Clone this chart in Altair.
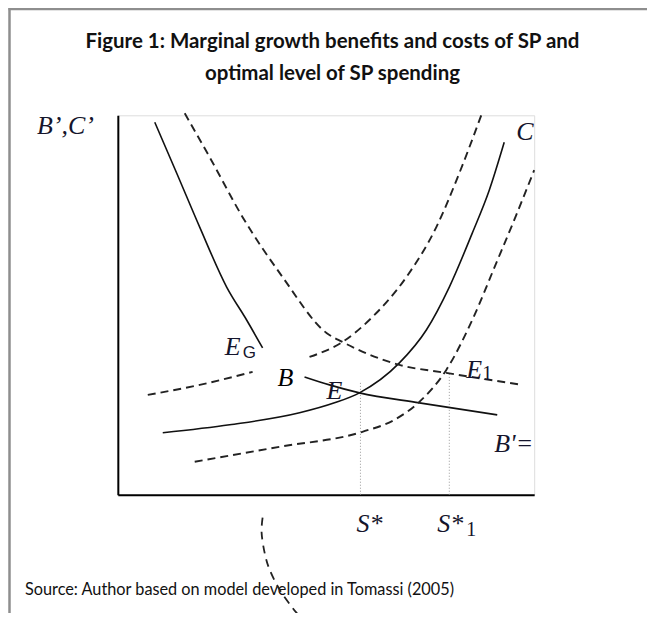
import altair as alt
import pandas as pd

# ---- curve values (S on x, B',C' on y) ----
eg_x = [37, 59, 82, 109, 129, 145]                 # solid benefit curve ending at E_G
eg_y = [373, 322, 268, 208, 175, 147]
bh_x = [67, 92, 125, 165, 209, 225, 282, 329, 405]  # dashed benefit curve through E_1
bh_y = [382, 338, 278, 218, 162, 153, 130, 122, 110]
cla_x = [30, 82, 135]                              # dashed cost curve (left), first piece
cla_y = [100, 110, 123]
clb_x = [192, 225, 255, 289, 319, 342, 364]        # dashed cost curve (left), second piece
clb_y = [138, 153, 178, 218, 268, 322, 380]
c_x = [45, 112, 182, 217, 242, 282, 309, 332, 355, 372, 387]   # solid cost curve C
c_y = [62, 70, 82, 92, 102, 132, 165, 208, 262, 305, 353]
b_x = [187, 212, 242, 302, 380]                    # solid benefit curve B
b_y = [118, 110, 102, 92, 80]
cr_x = [77, 162, 245, 277, 302, 329, 355, 379, 399, 417]       # dashed cost curve (right)
cr_y = [33, 48, 63, 75, 93, 125, 175, 232, 280, 325]
arc_x = [145, 144, 147, 152, 162, 174, 182, 192]   # stray dashed arc under the axis
arc_y = [-23, -38, -58, -75, -95, -112, -122, -135]

# equilibrium levels
s_star = [243, 332]
s_top = [112, 122]

# ---- annotation texts ----
title_lines = "Figure 1: Marginal growth benefits and costs of SP and\noptimal level of SP spending"
source_text = "Source: Author based on model developed in Tomassi (2005)"
ital_text = ["B\u2019,C\u2019", "E", "E", "E", "S*", "S*"]
ital_x = [-81, 107, 209, 349, 239, 320]
ital_y = [361, 140, 96, 117, -37, -37]
edge_text = ["B'=", "C"]
edge_x = [377, 399]
edge_y = [43, 355]
b_text = ["B"]
b_lx = [160]
b_ly = [109]
subg_text = ["G"]
subg_x = [125]
subg_y = [137]
sub1_text = ["1", "1"]
sub1_x = [365, 349]
sub1_y = [115, -41]


def frame(name, xs, ys, seg=None):
    return pd.DataFrame({"curve": name, "seg": seg or name, "x": xs, "y": ys})


solid = pd.concat([frame("eg", eg_x, eg_y), frame("c", c_x, c_y), frame("b", b_x, b_y)])
dashed = pd.concat([
    frame("bh", bh_x, bh_y),
    frame("cl", cla_x, cla_y, "cla"),
    frame("cl", clb_x, clb_y, "clb"),
    frame("cr", cr_x, cr_y),
])
arc = pd.DataFrame({"x": arc_x, "y": arc_y, "o": list(range(len(arc_x)))})
drops = pd.DataFrame({"x": s_star, "y0": [0, 0], "y1": s_top})

xs = alt.Scale(domain=[0, 417], nice=False, zero=False)
ys = alt.Scale(domain=[0, 380], nice=False, zero=False)
X = lambda f="x": alt.X(f"{f}:Q", scale=xs, axis=alt.Axis(labels=False, ticks=False, grid=False, title=None,
                                                         domainColor="black", domainWidth=2))
Y = lambda f="y": alt.Y(f"{f}:Q", scale=ys, axis=alt.Axis(labels=False, ticks=False, grid=False, title=None,
                                                         domainColor="black", domainWidth=2))

solid_l = alt.Chart(solid).mark_line(interpolate="monotone", color="#111", strokeWidth=1.6).encode(
    x=X(), y=Y(), detail="seg:N")
dashed_l = alt.Chart(dashed).mark_line(interpolate="monotone", color="#222", strokeWidth=1.9,
                                       strokeDash=[8, 5]).encode(x=X(), y=Y(), detail="seg:N")
arc_l = alt.Chart(arc).mark_line(interpolate="cardinal", color="#222", strokeWidth=1.8,
                                 strokeDash=[8, 6]).encode(x=X(), y=Y(), order="o:Q")
drop_l = alt.Chart(drops).mark_rule(color="#999", strokeWidth=1, strokeDash=[1, 2]).encode(
    x=X(), y=Y("y0"), y2="y1:Q")

serif = "Liberation Serif"
ink = "#15152c"


def labels(txt, lx, ly, **kw):
    df = pd.DataFrame({"t": txt, "x": lx, "y": ly})
    return alt.Chart(df).mark_text(align="left", baseline="alphabetic", **kw).encode(
        x=X(), y=Y(), text="t:N")


ital = labels(ital_text, ital_x, ital_y, font=serif, fontStyle="italic", fontSize=26, color=ink)
edge = labels(edge_text, edge_x, edge_y, font=serif, fontStyle="italic", fontSize=26, color=ink, clip=True)
blab = labels(b_text, b_lx, b_ly, font=serif, fontStyle="italic", fontSize=26, color="black")
subg = labels(subg_text, subg_x, subg_y, font="Liberation Sans", fontSize=17, color=ink)
sub1 = labels(sub1_text, sub1_x, sub1_y, font=serif, fontSize=20, color=ink)

one = pd.DataFrame({"a": [0]})
border_left = alt.Chart(one).mark_rule(color="#8e8e8e", strokeWidth=2.5).encode(
    x=alt.value(-108.5), y=alt.value(-107.5), y2=alt.value(520))
border_top = alt.Chart(one).mark_rule(color="#8e8e8e", strokeWidth=2.5).encode(
    x=alt.value(-109.5), x2=alt.value(545), y=alt.value(-106.5))

title_t = alt.Chart(pd.DataFrame({"t": [title_lines]})).mark_text(
    font="Lato", fontWeight="bold", fontSize=20.5, lineBreak="\n", lineHeight=32,
    align="center", baseline="middle", color="#111").encode(
    x=alt.value(215), y=alt.value(-73), text="t:N")
source_t = alt.Chart(pd.DataFrame({"t": [source_text]})).mark_text(
    font="Lato", fontSize=16.3, align="left", baseline="middle", color="#111").encode(
    x=alt.value(-93), y=alt.value(475), text="t:N")

chart = alt.layer(
    border_left, border_top, title_t, source_t,
    drop_l, solid_l, dashed_l, arc_l,
    ital, edge, blab, subg, sub1,
).properties(
    width=417, height=380,
    autosize=alt.AutoSizeParams(type="none"),
    padding={"left": 110, "top": 107, "right": 113, "bottom": 118},
).configure_view(stroke=None).configure(background="white")

chart.save("out.html", embed_options={"renderer": "svg", "actions": False})
